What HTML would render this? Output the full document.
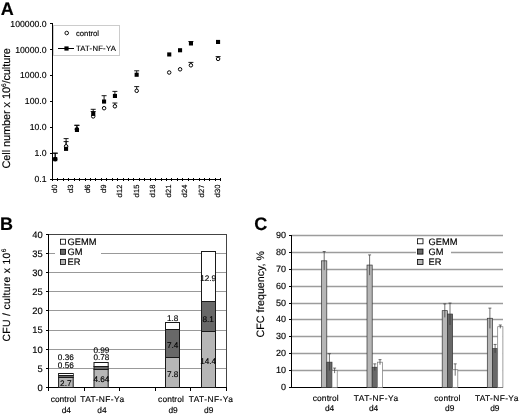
<!DOCTYPE html>
<html><head><meta charset="utf-8"><title>Figure</title>
<style>html,body{margin:0;padding:0;background:#fff}svg{display:block;will-change:transform;transform:translateZ(0);filter:blur(0.4px)}text{font-family:"Liberation Sans", sans-serif;fill:#000;stroke:#000;stroke-width:0.15px;text-rendering:geometricPrecision}</style>
</head><body>
<svg width="520" height="415" viewBox="0 0 520 415">
<rect width="520" height="415" fill="#fff"/>
<text x="0.7" y="14.8" font-size="18" font-weight="bold">A</text>
<g stroke="#000" stroke-width="1" fill="none" shape-rendering="crispEdges">
<line x1="52.5" y1="23.5" x2="52.5" y2="179.0"/>
<line x1="52.5" y1="179.0" x2="220.8" y2="179.0"/>
<line x1="49.5" y1="23.5" x2="52.5" y2="23.5"/>
<line x1="49.5" y1="49.4" x2="52.5" y2="49.4"/>
<line x1="49.5" y1="75.3" x2="52.5" y2="75.3"/>
<line x1="49.5" y1="101.2" x2="52.5" y2="101.2"/>
<line x1="49.5" y1="127.2" x2="52.5" y2="127.2"/>
<line x1="49.5" y1="153.1" x2="52.5" y2="153.1"/>
<line x1="49.5" y1="179.0" x2="52.5" y2="179.0"/>
<line x1="52.5" y1="177.5" x2="52.5" y2="181.0"/>
<line x1="57.9" y1="177.5" x2="57.9" y2="181.0"/>
<line x1="63.4" y1="177.5" x2="63.4" y2="181.0"/>
<line x1="68.8" y1="177.5" x2="68.8" y2="181.0"/>
<line x1="74.2" y1="177.5" x2="74.2" y2="181.0"/>
<line x1="79.6" y1="177.5" x2="79.6" y2="181.0"/>
<line x1="85.1" y1="177.5" x2="85.1" y2="181.0"/>
<line x1="90.5" y1="177.5" x2="90.5" y2="181.0"/>
<line x1="95.9" y1="177.5" x2="95.9" y2="181.0"/>
<line x1="101.4" y1="177.5" x2="101.4" y2="181.0"/>
<line x1="106.8" y1="177.5" x2="106.8" y2="181.0"/>
<line x1="112.2" y1="177.5" x2="112.2" y2="181.0"/>
<line x1="117.6" y1="177.5" x2="117.6" y2="181.0"/>
<line x1="123.1" y1="177.5" x2="123.1" y2="181.0"/>
<line x1="128.5" y1="177.5" x2="128.5" y2="181.0"/>
<line x1="133.9" y1="177.5" x2="133.9" y2="181.0"/>
<line x1="139.4" y1="177.5" x2="139.4" y2="181.0"/>
<line x1="144.8" y1="177.5" x2="144.8" y2="181.0"/>
<line x1="150.2" y1="177.5" x2="150.2" y2="181.0"/>
<line x1="155.7" y1="177.5" x2="155.7" y2="181.0"/>
<line x1="161.1" y1="177.5" x2="161.1" y2="181.0"/>
<line x1="166.5" y1="177.5" x2="166.5" y2="181.0"/>
<line x1="171.9" y1="177.5" x2="171.9" y2="181.0"/>
<line x1="177.4" y1="177.5" x2="177.4" y2="181.0"/>
<line x1="182.8" y1="177.5" x2="182.8" y2="181.0"/>
<line x1="188.2" y1="177.5" x2="188.2" y2="181.0"/>
<line x1="193.7" y1="177.5" x2="193.7" y2="181.0"/>
<line x1="199.1" y1="177.5" x2="199.1" y2="181.0"/>
<line x1="204.5" y1="177.5" x2="204.5" y2="181.0"/>
<line x1="209.9" y1="177.5" x2="209.9" y2="181.0"/>
<line x1="215.4" y1="177.5" x2="215.4" y2="181.0"/>
<line x1="220.8" y1="177.5" x2="220.8" y2="181.0"/>
</g>
<text x="46.6" y="26.6" font-size="8.7" text-anchor="end">100000.0</text>
<text x="46.6" y="52.5" font-size="8.7" text-anchor="end">10000.0</text>
<text x="46.6" y="78.4" font-size="8.7" text-anchor="end">1000.0</text>
<text x="46.6" y="104.3" font-size="8.7" text-anchor="end">100.0</text>
<text x="46.6" y="130.3" font-size="8.7" text-anchor="end">10.0</text>
<text x="46.6" y="156.2" font-size="8.7" text-anchor="end">1.0</text>
<text x="46.6" y="182.1" font-size="8.7" text-anchor="end">0.1</text>
<text transform="translate(57.1,184.3) rotate(-90)" font-size="7.5" letter-spacing="0.2" text-anchor="end">d0</text>
<text transform="translate(73.4,184.3) rotate(-90)" font-size="7.5" letter-spacing="0.2" text-anchor="end">d3</text>
<text transform="translate(89.7,184.3) rotate(-90)" font-size="7.5" letter-spacing="0.2" text-anchor="end">d6</text>
<text transform="translate(106.0,184.3) rotate(-90)" font-size="7.5" letter-spacing="0.2" text-anchor="end">d9</text>
<text transform="translate(122.3,184.3) rotate(-90)" font-size="7.5" letter-spacing="0.2" text-anchor="end">d12</text>
<text transform="translate(138.6,184.3) rotate(-90)" font-size="7.5" letter-spacing="0.2" text-anchor="end">d15</text>
<text transform="translate(154.8,184.3) rotate(-90)" font-size="7.5" letter-spacing="0.2" text-anchor="end">d18</text>
<text transform="translate(171.1,184.3) rotate(-90)" font-size="7.5" letter-spacing="0.2" text-anchor="end">d21</text>
<text transform="translate(187.4,184.3) rotate(-90)" font-size="7.5" letter-spacing="0.2" text-anchor="end">d24</text>
<text transform="translate(203.7,184.3) rotate(-90)" font-size="7.5" letter-spacing="0.2" text-anchor="end">d27</text>
<text transform="translate(220.0,184.3) rotate(-90)" font-size="7.5" letter-spacing="0.2" text-anchor="end">d30</text>
<text transform="translate(9.5,108.4) rotate(-90)" font-size="11" letter-spacing="-0.1" text-anchor="middle">Cell number x 10<tspan font-size="6.5" dy="-4">6</tspan><tspan dy="4">/culture</tspan></text>
<rect x="53.5" y="25.5" width="66" height="30" fill="#fff" stroke="#ccc" stroke-width="1" shape-rendering="crispEdges"/>
<circle cx="66.7" cy="33" r="1.8" fill="#fff" stroke="#000" stroke-width="0.9"/>
<text x="76" y="35.8" font-size="7.7">control</text>
<line x1="58" y1="48.5" x2="73.5" y2="48.5" stroke="#000" stroke-width="1" shape-rendering="crispEdges"/>
<rect x="64.4" y="46.4" width="4.2" height="4.2" fill="#000"/>
<text x="76" y="50.7" font-size="7.7" textLength="39.8">TAT-NF-YA</text>
<g stroke="#000" stroke-width="0.9" fill="none">
<path d="M55.2 159.2V153.2M52.7 153.2H57.7"/>
<path d="M55.2 159.2V153.2M52.7 153.2H57.7"/>
<path d="M66.1 146.3V138.6M63.6 138.6H68.6"/>
<path d="M66.1 148.8V141.6M63.6 141.6H68.6"/>
<path d="M76.9 129.2V125.3M74.4 125.3H79.4"/>
<path d="M76.9 129.9V125.3M74.4 125.3H79.4"/>
<path d="M93.2 116.4V111.5M90.7 111.5H95.7"/>
<path d="M93.2 113.8V109.3M90.7 109.3H95.7"/>
<path d="M104.1 101.6V95.7M101.6 95.7H106.6"/>
<path d="M114.9 106.3V103.0M112.4 103.0H117.4"/>
<path d="M114.9 95.9V91.4M112.4 91.4H117.4"/>
<path d="M136.7 90.8V86.6M134.2 86.6H139.2"/>
<path d="M136.7 74.7V70.8M134.2 70.8H139.2"/>
<path d="M190.9 65.3V62.4M188.4 62.4H193.4"/>
<path d="M190.9 43.4V41.5M188.4 41.5H193.4"/>
<path d="M218.1 58.9V56.6M215.6 56.6H220.6"/>
</g>
<circle cx="55.2" cy="159.2" r="1.75" fill="#fff" stroke="#000" stroke-width="1"/>
<circle cx="66.1" cy="146.3" r="1.75" fill="#fff" stroke="#000" stroke-width="1"/>
<circle cx="76.9" cy="129.2" r="1.75" fill="#fff" stroke="#000" stroke-width="1"/>
<circle cx="93.2" cy="116.4" r="1.75" fill="#fff" stroke="#000" stroke-width="1"/>
<circle cx="104.1" cy="108.2" r="1.75" fill="#fff" stroke="#000" stroke-width="1"/>
<circle cx="114.9" cy="106.3" r="1.75" fill="#fff" stroke="#000" stroke-width="1"/>
<circle cx="136.7" cy="90.8" r="1.75" fill="#fff" stroke="#000" stroke-width="1"/>
<circle cx="169.2" cy="72.5" r="1.75" fill="#fff" stroke="#000" stroke-width="1"/>
<circle cx="180.1" cy="69.3" r="1.75" fill="#fff" stroke="#000" stroke-width="1"/>
<circle cx="190.9" cy="65.3" r="1.75" fill="#fff" stroke="#000" stroke-width="1"/>
<circle cx="218.1" cy="58.9" r="1.75" fill="#fff" stroke="#000" stroke-width="1"/>
<rect x="53.2" y="157.1" width="4.1" height="4.1" fill="#000"/>
<rect x="64.0" y="146.8" width="4.1" height="4.1" fill="#000"/>
<rect x="74.9" y="127.9" width="4.1" height="4.1" fill="#000"/>
<rect x="91.2" y="111.8" width="4.1" height="4.1" fill="#000"/>
<rect x="102.0" y="99.5" width="4.1" height="4.1" fill="#000"/>
<rect x="112.9" y="93.9" width="4.1" height="4.1" fill="#000"/>
<rect x="134.6" y="72.7" width="4.1" height="4.1" fill="#000"/>
<rect x="167.2" y="52.4" width="4.1" height="4.1" fill="#000"/>
<rect x="178.0" y="48.2" width="4.1" height="4.1" fill="#000"/>
<rect x="188.9" y="41.4" width="4.1" height="4.1" fill="#000"/>
<rect x="216.0" y="39.9" width="4.1" height="4.1" fill="#000"/>
<text x="0" y="230.3" font-size="18" font-weight="bold">B</text>
<g stroke="#999" stroke-width="1" shape-rendering="crispEdges">
<line x1="48.5" y1="368.5" x2="226.5" y2="368.5"/>
<line x1="48.5" y1="349.5" x2="226.5" y2="349.5"/>
<line x1="48.5" y1="330.5" x2="226.5" y2="330.5"/>
<line x1="48.5" y1="310.5" x2="226.5" y2="310.5"/>
<line x1="48.5" y1="291.5" x2="226.5" y2="291.5"/>
<line x1="48.5" y1="272.5" x2="226.5" y2="272.5"/>
<line x1="48.5" y1="253.5" x2="226.5" y2="253.5"/>
</g>
<rect x="48.5" y="234.5" width="178.0" height="153.0" fill="none" stroke="#444" stroke-width="1" shape-rendering="crispEdges"/>
<g stroke="#000" stroke-width="1" shape-rendering="crispEdges">
<line x1="48.5" y1="234.5" x2="48.5" y2="387.5"/>
<line x1="48.5" y1="387.5" x2="226.5" y2="387.5"/>
<line x1="45.5" y1="387.5" x2="48.5" y2="387.5"/>
<line x1="45.5" y1="368.5" x2="48.5" y2="368.5"/>
<line x1="45.5" y1="349.5" x2="48.5" y2="349.5"/>
<line x1="45.5" y1="330.5" x2="48.5" y2="330.5"/>
<line x1="45.5" y1="310.5" x2="48.5" y2="310.5"/>
<line x1="45.5" y1="291.5" x2="48.5" y2="291.5"/>
<line x1="45.5" y1="272.5" x2="48.5" y2="272.5"/>
<line x1="45.5" y1="253.5" x2="48.5" y2="253.5"/>
<line x1="45.5" y1="234.5" x2="48.5" y2="234.5"/>
<line x1="48.5" y1="387.5" x2="48.5" y2="390.5"/>
<line x1="84.5" y1="387.5" x2="84.5" y2="390.5"/>
<line x1="119.5" y1="387.5" x2="119.5" y2="390.5"/>
<line x1="155.5" y1="387.5" x2="155.5" y2="390.5"/>
<line x1="190.5" y1="387.5" x2="190.5" y2="390.5"/>
<line x1="226.5" y1="387.5" x2="226.5" y2="390.5"/>
</g>
<text x="42.7" y="390.8" font-size="9.4" text-anchor="end">0</text>
<text x="42.7" y="371.7" font-size="9.4" text-anchor="end">5</text>
<text x="42.7" y="352.6" font-size="9.4" text-anchor="end">10</text>
<text x="42.7" y="333.4" font-size="9.4" text-anchor="end">15</text>
<text x="42.7" y="314.3" font-size="9.4" text-anchor="end">20</text>
<text x="42.7" y="295.2" font-size="9.4" text-anchor="end">25</text>
<text x="42.7" y="276.1" font-size="9.4" text-anchor="end">30</text>
<text x="42.7" y="256.9" font-size="9.4" text-anchor="end">35</text>
<text x="42.7" y="237.8" font-size="9.4" text-anchor="end">40</text>
<text transform="translate(10.3,294.9) rotate(-90)" font-size="10.4" letter-spacing="0.3" text-anchor="middle">CFU / culture x 10<tspan font-size="6.5" dy="-3.9">6</tspan></text>
<rect x="55" y="237" width="46" height="30" fill="#fff"/>
<rect x="60.5" y="239.2" width="5" height="5" fill="#fff" stroke="#000" stroke-width="0.8"/>
<text x="67.5" y="245.1" font-size="9.3">GEMM</text>
<rect x="60.5" y="249.3" width="5" height="5" fill="#686868" stroke="#000" stroke-width="0.8"/>
<text x="67.5" y="255.2" font-size="9.3">GM</text>
<rect x="60.5" y="259.4" width="5" height="5" fill="#b6b6b6" stroke="#000" stroke-width="0.8"/>
<text x="67.5" y="265.3" font-size="9.3">ER</text>
<rect x="58.60" y="377.50" width="14.6" height="10.00" fill="#b6b6b6" stroke="#1a1a1a" stroke-width="1"/>
<rect x="58.60" y="375.50" width="14.6" height="2.00" fill="#686868" stroke="#1a1a1a" stroke-width="1"/>
<rect x="58.60" y="373.50" width="14.6" height="2.00" fill="#fff" stroke="#1a1a1a" stroke-width="1"/>
<rect x="94.00" y="369.50" width="14.2" height="18.00" fill="#b6b6b6" stroke="#1a1a1a" stroke-width="1"/>
<rect x="94.00" y="366.50" width="14.2" height="3.00" fill="#686868" stroke="#1a1a1a" stroke-width="1"/>
<rect x="94.00" y="362.50" width="14.2" height="4.00" fill="#fff" stroke="#1a1a1a" stroke-width="1"/>
<rect x="165.50" y="357.50" width="14.0" height="30.00" fill="#b6b6b6" stroke="#1a1a1a" stroke-width="1"/>
<rect x="165.50" y="329.50" width="14.0" height="28.00" fill="#686868" stroke="#1a1a1a" stroke-width="1"/>
<rect x="165.50" y="322.50" width="14.0" height="7.00" fill="#fff" stroke="#1a1a1a" stroke-width="1"/>
<rect x="201.50" y="331.50" width="14.0" height="56.00" fill="#b6b6b6" stroke="#1a1a1a" stroke-width="1"/>
<rect x="201.50" y="301.50" width="14.0" height="30.00" fill="#686868" stroke="#1a1a1a" stroke-width="1"/>
<rect x="201.50" y="251.50" width="14.0" height="50.00" fill="#fff" stroke="#1a1a1a" stroke-width="1"/>
<text x="65.8" y="359.9" font-size="8.2" text-anchor="middle">0.36</text>
<text x="65.8" y="367.9" font-size="8.2" text-anchor="middle">0.56</text>
<text x="65.8" y="385.7" font-size="8.2" text-anchor="middle">2.7</text>
<text x="101.4" y="352.6" font-size="8.2" text-anchor="middle">0.99</text>
<text x="101.4" y="360.4" font-size="8.2" text-anchor="middle">0.78</text>
<text x="101.4" y="382.4" font-size="8.2" text-anchor="middle">4.64</text>
<text x="172.6" y="320.5" font-size="8.2" text-anchor="middle">1.8</text>
<text x="172.6" y="348.3" font-size="8.2" text-anchor="middle">7.4</text>
<text x="172.6" y="376.6" font-size="8.2" text-anchor="middle">7.8</text>
<text x="208.2" y="281.2" font-size="8.2" text-anchor="middle">12.9</text>
<text x="208.2" y="321.8" font-size="8.2" text-anchor="middle">8.1</text>
<text x="208.2" y="363.5" font-size="8.2" text-anchor="middle">14.4</text>
<text x="63.4" y="402" font-size="8.4" text-anchor="middle" textLength="25.5">control</text>
<text x="66.3" y="412.6" font-size="8.4" text-anchor="middle">d4</text>
<text x="102.2" y="402" font-size="8.4" text-anchor="middle" textLength="43.8">TAT-NF-Ya</text>
<text x="101.9" y="412.6" font-size="8.4" text-anchor="middle">d4</text>
<text x="171.0" y="402" font-size="8.4" text-anchor="middle" textLength="25.8">control</text>
<text x="173.1" y="412.6" font-size="8.4" text-anchor="middle">d9</text>
<text x="210.8" y="402" font-size="8.4" text-anchor="middle" textLength="44.2">TAT-NF-Ya</text>
<text x="208.7" y="412.6" font-size="8.4" text-anchor="middle">d9</text>
<text x="254.3" y="230" font-size="18" font-weight="bold">C</text>
<g stroke="#9c9c9c" stroke-width="1.35">
<line x1="291.5" y1="370.5" x2="503.0" y2="370.5"/>
<line x1="291.5" y1="353.5" x2="503.0" y2="353.5"/>
<line x1="291.5" y1="336.5" x2="503.0" y2="336.5"/>
<line x1="291.5" y1="319.5" x2="503.0" y2="319.5"/>
<line x1="291.5" y1="303.5" x2="503.0" y2="303.5"/>
<line x1="291.5" y1="286.5" x2="503.0" y2="286.5"/>
<line x1="291.5" y1="269.5" x2="503.0" y2="269.5"/>
<line x1="291.5" y1="252.5" x2="503.0" y2="252.5"/>
<line x1="291.5" y1="235.5" x2="503.0" y2="235.5"/>
</g>
<g stroke="#000" stroke-width="1" shape-rendering="crispEdges">
<line x1="291.5" y1="235.5" x2="291.5" y2="387.5"/>
<line x1="291.5" y1="387.5" x2="503.0" y2="387.5"/>
<line x1="288.5" y1="387.5" x2="291.5" y2="387.5"/>
<line x1="288.5" y1="370.5" x2="291.5" y2="370.5"/>
<line x1="288.5" y1="353.5" x2="291.5" y2="353.5"/>
<line x1="288.5" y1="336.5" x2="291.5" y2="336.5"/>
<line x1="288.5" y1="319.5" x2="291.5" y2="319.5"/>
<line x1="288.5" y1="303.5" x2="291.5" y2="303.5"/>
<line x1="288.5" y1="286.5" x2="291.5" y2="286.5"/>
<line x1="288.5" y1="269.5" x2="291.5" y2="269.5"/>
<line x1="288.5" y1="252.5" x2="291.5" y2="252.5"/>
<line x1="288.5" y1="235.5" x2="291.5" y2="235.5"/>
</g>
<text x="286" y="390.0" font-size="9" text-anchor="end">0</text>
<text x="286" y="373.1" font-size="9" text-anchor="end">10</text>
<text x="286" y="356.2" font-size="9" text-anchor="end">20</text>
<text x="286" y="339.3" font-size="9" text-anchor="end">30</text>
<text x="286" y="322.4" font-size="9" text-anchor="end">40</text>
<text x="286" y="305.6" font-size="9" text-anchor="end">50</text>
<text x="286" y="288.7" font-size="9" text-anchor="end">60</text>
<text x="286" y="271.8" font-size="9" text-anchor="end">70</text>
<text x="286" y="254.9" font-size="9" text-anchor="end">80</text>
<text x="286" y="238.0" font-size="9" text-anchor="end">90</text>
<text transform="translate(263.6,294.2) rotate(-90)" font-size="10.7" text-anchor="middle">CFC frequency, %</text>
<rect x="416" y="247" width="35" height="10" fill="#fff"/>
<rect x="417.5" y="238.8" width="5.5" height="5" fill="#fff" stroke="#000" stroke-width="0.8"/>
<text x="428.5" y="244.7" font-size="9.3">GEMM</text>
<rect x="417.5" y="249.1" width="5.5" height="5" fill="#686868" stroke="#000" stroke-width="0.8"/>
<text x="428.5" y="255.0" font-size="9.3">GM</text>
<rect x="417.5" y="259.4" width="5.5" height="5" fill="#b6b6b6" stroke="#000" stroke-width="0.8"/>
<text x="428.5" y="265.3" font-size="9.3">ER</text>
<rect x="321.6" y="260.83" width="5.2" height="126.67" fill="#b6b6b6" stroke="#333" stroke-width="0.7"/>
<path d="M324.2 270.12V251.54M322.7 251.54H325.7" stroke="#333" stroke-width="0.7" fill="none"/>
<rect x="326.8" y="362.17" width="5.2" height="25.33" fill="#686868" stroke="#333" stroke-width="0.7"/>
<path d="M329.4 370.61V353.72M327.9 353.72H330.9" stroke="#333" stroke-width="0.7" fill="none"/>
<rect x="332.0" y="370.61" width="5.2" height="16.89" fill="#fff" stroke="#777" stroke-width="0.7"/>
<path d="M334.6 373.14V368.08M333.1 368.08H336.1" stroke="#333" stroke-width="0.7" fill="none"/>
<rect x="367.0" y="265.06" width="5.2" height="122.44" fill="#b6b6b6" stroke="#333" stroke-width="0.7"/>
<path d="M369.6 275.19V254.92M368.1 254.92H371.1" stroke="#333" stroke-width="0.7" fill="none"/>
<rect x="372.2" y="367.23" width="5.2" height="20.27" fill="#686868" stroke="#333" stroke-width="0.7"/>
<path d="M374.8 370.61V363.86M373.3 363.86H376.3" stroke="#333" stroke-width="0.7" fill="none"/>
<rect x="377.4" y="362.17" width="5.2" height="25.33" fill="#fff" stroke="#777" stroke-width="0.7"/>
<path d="M380.0 364.70V359.63M378.5 359.63H381.5" stroke="#333" stroke-width="0.7" fill="none"/>
<rect x="442.2" y="310.66" width="5.2" height="76.84" fill="#b6b6b6" stroke="#333" stroke-width="0.7"/>
<path d="M444.8 317.41V303.90M443.3 303.90H446.3" stroke="#333" stroke-width="0.7" fill="none"/>
<rect x="447.4" y="314.03" width="5.2" height="73.47" fill="#686868" stroke="#333" stroke-width="0.7"/>
<path d="M450.0 325.01V303.06M448.5 303.06H451.5" stroke="#333" stroke-width="0.7" fill="none"/>
<rect x="452.6" y="369.77" width="5.2" height="17.73" fill="#fff" stroke="#777" stroke-width="0.7"/>
<path d="M455.2 375.68V363.86M453.7 363.86H456.7" stroke="#333" stroke-width="0.7" fill="none"/>
<rect x="487.3" y="318.26" width="5.2" height="69.24" fill="#b6b6b6" stroke="#333" stroke-width="0.7"/>
<path d="M489.9 328.39V308.12M488.4 308.12H491.4" stroke="#333" stroke-width="0.7" fill="none"/>
<rect x="492.5" y="348.66" width="5.2" height="38.84" fill="#686868" stroke="#333" stroke-width="0.7"/>
<path d="M495.1 352.88V344.43M493.6 344.43H496.6" stroke="#333" stroke-width="0.7" fill="none"/>
<rect x="497.7" y="326.70" width="5.2" height="60.80" fill="#fff" stroke="#777" stroke-width="0.7"/>
<path d="M500.3 328.39V325.01M498.8 325.01H501.8" stroke="#333" stroke-width="0.7" fill="none"/>
<text x="325.7" y="400.6" font-size="8.4" text-anchor="middle" textLength="26.0">control</text>
<text x="329.6" y="410.8" font-size="8.4" text-anchor="middle">d4</text>
<text x="375.9" y="400.6" font-size="8.4" text-anchor="middle" textLength="44.4">TAT-NF-Ya</text>
<text x="373.6" y="410.8" font-size="8.4" text-anchor="middle">d4</text>
<text x="447.3" y="400.6" font-size="8.4" text-anchor="middle" textLength="26.2">control</text>
<text x="449.7" y="410.8" font-size="8.4" text-anchor="middle">d9</text>
<text x="496.6" y="400.6" font-size="8.4" text-anchor="middle" textLength="43.4">TAT-NF-Ya</text>
<text x="494.8" y="410.8" font-size="8.4" text-anchor="middle">d9</text>
</svg></body></html>
